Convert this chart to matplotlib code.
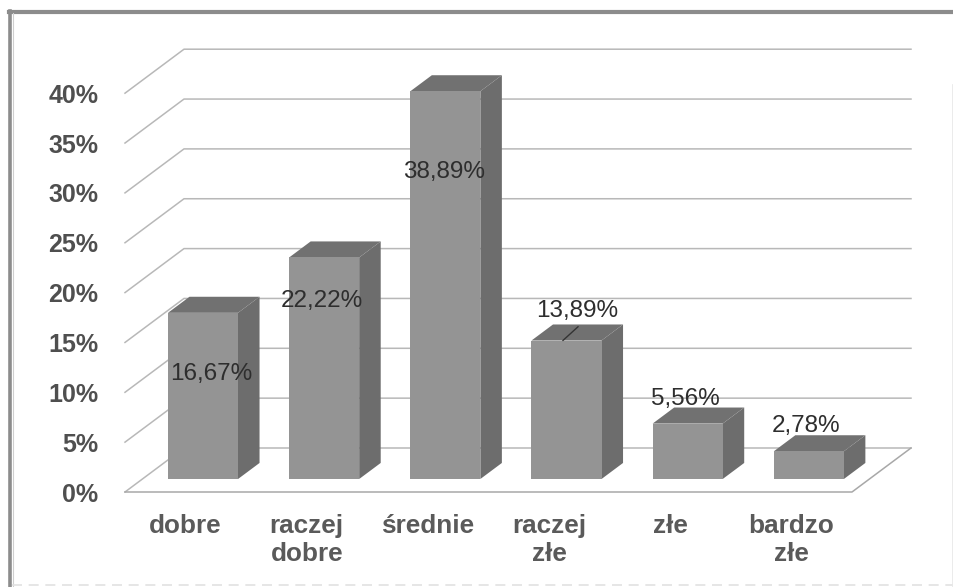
import matplotlib
matplotlib.use('Agg')
from matplotlib import pyplot as plt
from matplotlib.lines import Line2D
from matplotlib.patches import Polygon

#inputs
categories = ['dobre', 'raczej\ndobre', 'średnie', 'raczej\nzłe', 'złe', 'bardzo\nzłe']
values = [16.67, 22.22, 38.89, 13.89, 5.56, 2.78]
value_labels = ['16,67%', '22,22%', '38,89%', '13,89%', '5,56%', '2,78%']
yticks = [0, 5, 10, 15, 20, 25, 30, 35, 40]
ytick_labels = ['0%', '5%', '10%', '15%', '20%', '25%', '30%', '35%', '40%']

#label shift from bar top, in points
label_shift = [(6, -44), (-1.5, -31), (-1, -58), (8, 21.5), (-2, 18), (-2, 18)]

W, H = 954, 587
plt.rcParams['font.family'] = ['Liberation Sans', 'DejaVu Sans']
fig = plt.figure(figsize=(W / 100, H / 100), dpi=100)
ax = fig.add_axes([125 / W, (H - 492) / H, 727 / W, 398.8 / H])
ax.set_xlim(-0.5, 5.5)
ax.set_ylim(0, 40)
ax.patch.set_visible(False)
for s in ax.spines.values():
    s.set_visible(False)

# depth of the fake 3d floor, in data units
depth_x = 59 / 121.17
depth_y = 44 / 9.97
bar_w = 0.578
d0, d1 = 0.295, 0.66


def pr(x, y, d):
    return (x + d * depth_x, y + d * depth_y)


grid_c = '#b8b8b8'
for t in yticks:
    a = pr(-0.5, t, 0)
    b = pr(-0.5, t, 1)
    c = pr(5.5, t, 1)
    ax.plot([a[0], b[0], c[0]], [a[1], b[1], c[1]], color=grid_c, lw=1.1, clip_on=False, zorder=1)
# floor
f1 = pr(5.5, 0, 0)
f2 = pr(5.5, 0, 1)
ax.plot([-0.5, f1[0], f2[0]], [0, f1[1], f2[1]], color='#a8a8a8', lw=1.1, clip_on=False, zorder=1)

for i, v in enumerate(values):
    xl, xr = i - bar_w / 2, i + bar_w / 2
    fl_b = pr(xl, 0, d0)
    fr_b = pr(xr, 0, d0)
    fr_t = pr(xr, v, d0)
    fl_t = pr(xl, v, d0)
    br_b = pr(xr, 0, d1)
    br_t = pr(xr, v, d1)
    bl_t = pr(xl, v, d1)
    ax.add_patch(Polygon([fr_b, br_b, br_t, fr_t], fc='#6d6d6d', ec='none', clip_on=False, zorder=2))
    ax.add_patch(Polygon([fl_t, fr_t, br_t, bl_t], fc='#717171', ec='none', clip_on=False, zorder=2))
    ax.add_patch(Polygon([fl_b, fr_b, fr_t, fl_t], fc='#949494', ec='none', clip_on=False, zorder=3))
    ax.annotate(value_labels[i], xy=((xl + xr) / 2 + d0 * depth_x, v + d0 * depth_y), xytext=label_shift[i],
                textcoords='offset points', ha='center', va='center', fontsize=17.5, color='#2e2e2e',
                zorder=5, annotation_clip=False)

# leader line of 13,89%
p1 = pr(3 - 0.03, values[3], d0)
ax.annotate('', xy=p1, xytext=(11, 10), textcoords='offset points', annotation_clip=False,
            arrowprops=dict(arrowstyle='-', color='#333333', lw=1, shrinkA=0, shrinkB=0), zorder=5)

ax.set_xticks(range(len(categories)))
ax.set_xticklabels(categories, fontsize=18.8, fontweight='bold', color='#5a5a5a', linespacing=1.25)
ax.set_yticks(yticks)
ax.set_yticklabels(ytick_labels, fontsize=18, fontweight='bold', color='#4f4f4f')
ax.tick_params(axis='x', length=0, pad=15.5)
ax.tick_params(axis='y', length=0, pad=19)

# scanned frame: heavy top and left, right and bottom nearly gone
fig.add_artist(Line2D([9 / W, 1], [1 - 12 / H, 1 - 12 / H], color='#8c8c8c', lw=3))
fig.add_artist(Line2D([10.5 / W, 10.5 / W], [0, 1 - 11 / H], color='#8c8c8c', lw=2.6))
fig.add_artist(Line2D([13 / W, 13 / W], [0, 1 - 13 / H], color='#cfcfcf', lw=0.8))
fig.add_artist(Line2D([12 / W, 1], [1 - 585 / H, 1 - 585 / H], color='#e2e2e2', lw=1.2, ls=(0, (6, 4))))
fig.add_artist(Line2D([953 / W, 953 / W], [0, 1 - 85 / H], color='#e8e8e8', lw=1.2))

fig.savefig('out.png', dpi=100)
